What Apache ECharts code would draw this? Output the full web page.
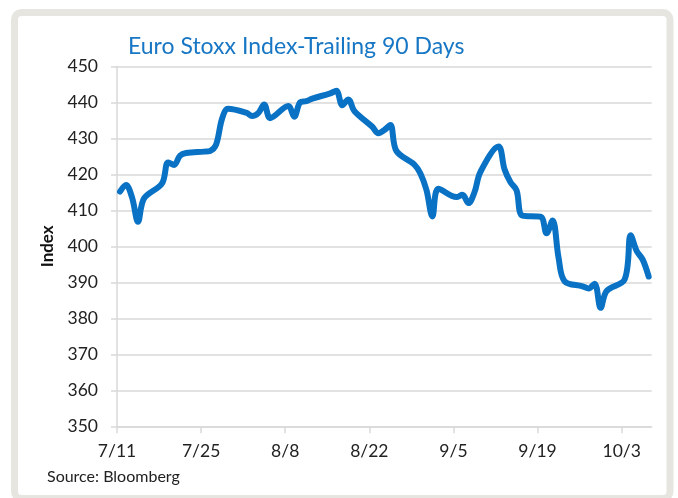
<!DOCTYPE html>
<html>
<head>
<meta charset="utf-8">
<script src="https://cdn.jsdelivr.net/npm/echarts@6/dist/echarts.min.js"></script>
<style>
html,body{margin:0;padding:0;background:#fff;}
#c{width:678px;height:498px;}
</style>
</head>
<body>
<div id="c"></div>
<script>
// Trading dates (2022) and index closes
const dates = [
  '7/11','7/12','7/13','7/14','7/15',
  '7/18','7/19','7/20','7/21','7/22',
  '7/25','7/26','7/27','7/28','7/29',
  '8/1','8/2','8/3','8/4','8/5',
  '8/8','8/9','8/10','8/11','8/12',
  '8/15','8/16','8/17','8/18','8/19',
  '8/22','8/23','8/24','8/25','8/26',
  '8/29','8/30','8/31','9/1','9/2',
  '9/5','9/6','9/7','9/8','9/9',
  '9/12','9/13','9/14','9/15','9/16',
  '9/19','9/20','9/21','9/22','9/23',
  '9/26','9/27','9/28','9/29','9/30',
  '10/3','10/4','10/5','10/6','10/7'
];
const values = [
  415.2, 417.0, 413.6, 406.8, 413.3,
  417.5, 423.3, 422.6, 425.2, 425.9,
  426.3, 426.5, 428.3, 435.5, 438.2,
  437.1, 436.2, 437.0, 439.4, 435.6,
  439.0, 436.0, 440.0, 440.3, 441.0,
  442.5, 443.2, 439.2, 440.8, 437.6,
  433.2, 431.4, 432.3, 433.7, 426.5,
  422.7, 420.2, 415.7, 408.3, 416.0,
  413.7, 414.3, 412.0, 415.0, 420.7,
  427.7, 421.4, 417.8, 415.6, 408.5,
  408.2, 403.6, 407.2, 396.8, 390.3,
  388.9, 388.3, 389.6, 382.9, 387.6,
  390.8, 403.1, 398.7, 396.3, 391.6
];
const xTickLabels = ['7/11','7/25','8/8','8/22','9/5','9/19','10/3'];
const yMin = 350, yMax = 450, yStep = 10;
const year = 2022;
const startDate = '7/11';
const spanDays = 89;      // calendar days shown on the date axis

function dayOffset(s){
  const [m,d] = s.split('/').map(Number);
  const [m0,d0] = startDate.split('/').map(Number);
  return Math.round((Date.UTC(year,m-1,d) - Date.UTC(year,m0-1,d0)) / 86400000);
}
// each date occupies one day-wide slot; the point sits mid-slot
const seriesData = dates.map((s,i) => [dayOffset(s) + 0.5, values[i]]);
const tickPos = xTickLabels.map(dayOffset);
const labelAt = {};
xTickLabels.forEach((l,i)=>{ labelAt[tickPos[i]] = l; });

const FONT = 'Lato';
const chart = echarts.init(document.getElementById('c'), null, {renderer:'canvas'});
chart.setOption({
  backgroundColor: '#ffffff',
  animation: false,
  title: {
    text: 'Euro Stoxx Index-Trailing 90 Days',
    left: 123, top: 30,
    textStyle: {color:'#1777C4', fontFamily: FONT, fontSize: 23, fontWeight: 'normal'}
  },
  grid: {left: 117, right: 26.3, top: 66.3, bottom: 71.7},
  xAxis: {
    type: 'value', min: 0, max: spanDays,
    axisLine: {show: true, onZero: false, lineStyle: {color:'#D9D9D9', width: 1.5}},
    axisTick: {show: true, length: 7, customValues: tickPos, lineStyle: {color:'#D9D9D9', width: 1.5}},
    axisLabel: {
      customValues: tickPos, margin: 16,
      formatter: v => labelAt[v] || '',
      color:'#222', fontFamily: FONT, fontSize: 17.5
    },
    splitLine: {show: false}
  },
  yAxis: {
    type: 'value', min: yMin, max: yMax, interval: yStep,
    name: 'Index', nameLocation: 'middle', nameGap: 61,
    nameTextStyle: {color:'#111', fontFamily: FONT, fontSize: 17, fontWeight: 'bold'},
    axisLine: {show: true, lineStyle: {color:'#D9D9D9', width: 1.5}},
    axisTick: {show: true, length: 6, lineStyle: {color:'#D9D9D9', width: 1.5}},
    axisLabel: {margin: 19, color:'#222', fontFamily: FONT, fontSize: 17.5},
    splitLine: {show: true, lineStyle: {color:'#D9D9D9', width: 1.5}}
  },
  series: [{
    type: 'line',
    data: seriesData,
    smooth: 0.35,
    symbol: 'none',
    lineStyle: {color:'#0A72C4', width: 6, cap: 'round', join: 'round'}
  }],
  graphic: [
    {type:'rect', silent:true, z:-1,
     shape:{x:14.5, y:12.5, width:655.5, height:486, r:7},
     style:{fill:'none', stroke:'#E6E5E0', lineWidth:7}},
    {type:'text', left: 47, top: 469,
     style:{text:'Source: Bloomberg', fill:'#222', font: '16px Lato'}}
  ]
});
</script>
</body>
</html>
